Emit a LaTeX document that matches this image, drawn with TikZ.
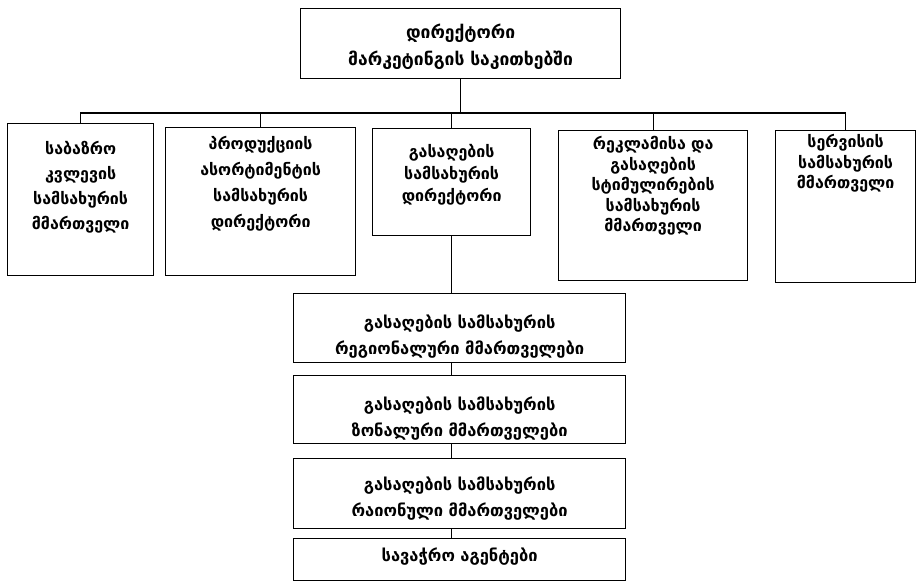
\documentclass[tikz,border=0pt]{standalone}
\usepackage{fontspec}
\setmainfont{DejaVu Sans}
\tikzset{
  box/.style={draw,line width=1.3pt,inner sep=0pt,anchor=north west,align=center,font=\bfseries},
  big/.style={font=\bfseries\fontsize{16.5}{26}\selectfont},
  small/.style={font=\bfseries\fontsize{16}{22}\selectfont},
  link/.style={line width=1.3pt}
}
\begin{document}
\begin{tikzpicture}[x=1pt,y=-1pt]
        \useasboundingbox (0,0) rectangle (922,582);
        \node[box,big,text width=320pt,text height=30pt,text depth=40pt,font=\bfseries\fontsize{17.5}{27}\selectfont] (dir) at (300,8) {დირექტორი\\მარკეტინგის საკითხებში};
        \node[box,small,text width=146pt,text height=31pt,text depth=121pt,font=\bfseries\fontsize{16}{25}\selectfont] (bazr) at (7,123) {საბაზრო\\კვლევის\\სამსახურის\\მმართველი};
        \node[box,small,text width=190pt,text height=22pt,text depth=126pt,font=\bfseries\fontsize{16}{26}\selectfont] (prod) at (165,127) {პროდუქციის\\ასორტიმენტის\\სამსახურის\\დირექტორი};
        \node[box,small,text width=158pt,text height=29pt,text depth=78pt] (gas) at (372,128) {გასაღების\\სამსახურის\\დირექტორი};
        \node[box,small,text width=189pt,text height=19pt,text depth=131pt,font=\bfseries\fontsize{16}{20.5}\selectfont] (rekl) at (558,130) {რეკლამისა და\\გასაღების\\სტიმულირების\\სამსახურის\\მმართველი};
        \node[box,small,text width=140pt,text height=17pt,text depth=135pt,font=\bfseries\fontsize{16}{20.5}\selectfont] (serv) at (775,130) {სერვისის\\სამსახურის\\მმართველი};
        \node[box,big,text width=332pt,text height=35pt,text depth=34pt] (reg) at (293,293) {გასაღების სამსახურის\\რეგიონალური მმართველები};
        \node[box,big,text width=332pt,text height=35pt,text depth=33pt] (zon) at (293,375) {გასაღების სამსახურის\\ზონალური მმართველები};
        \node[box,big,text width=332pt,text height=32pt,text depth=38pt] (rai) at (293,458) {გასაღების სამსახურის\\რაიონული მმართველები};
        \node[box,big,text width=332pt,text height=23pt,text depth=19pt] (agent) at (293,538) {სავაჭრო აგენტები};
        \coordinate (bus) at (0,113);
        \draw[link] (dir.south) -- (dir.south |- bus);
        \draw[link] (bazr.north) -- (bazr.north |- bus) -| (serv.north);
        \draw[link] (prod.north) -- (prod.north |- bus);
        \draw[link] (gas.north) -- (gas.north |- bus);
        \draw[link] (rekl.north) -- (rekl.north |- bus);
        \draw[link] (gas.south) -- (gas.south |- reg.north);
        \draw[link] (reg.south -| gas.south) -- (zon.north -| gas.south);
        \draw[link] (zon.south -| gas.south) -- (rai.north -| gas.south);
        \draw[link] (rai.south -| gas.south) -- (agent.north -| gas.south);
\end{tikzpicture}
\end{document}
